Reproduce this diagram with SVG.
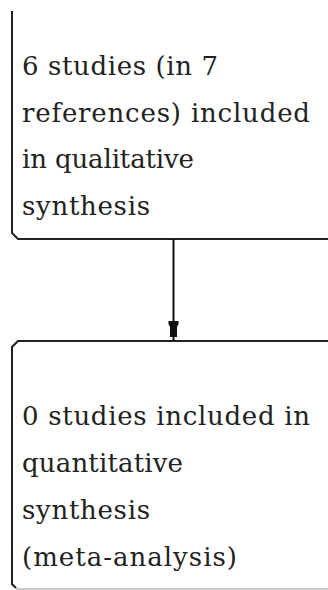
<svg xmlns="http://www.w3.org/2000/svg" width="328" height="590" viewBox="0 0 328 590">
<style>
.box{fill:none;stroke:#222;stroke-width:2}
.faint{fill:none;stroke:#c8c8c8;stroke-width:2}
.lbl{font-family:"DejaVu Serif","Liberation Serif",serif;font-size:26px;fill:#222}
.edge{stroke:#111;stroke-width:2;fill:none}
</style>
<rect width="328" height="590" fill="#fff"/>
<g id="node-qualitative">
<path class="box" d="M12,11 V233 L18,239 H330"/>
<text class="lbl" x="22" y="75" textLength="196" lengthAdjust="spacing">6 studies (in 7</text>
<text class="lbl" x="22" y="122" textLength="288" lengthAdjust="spacing">references) included</text>
<text class="lbl" x="22" y="168" textLength="172" lengthAdjust="spacing">in qualitative</text>
<text class="lbl" x="22" y="215" textLength="128" lengthAdjust="spacing">synthesis</text>
</g>
<g id="node-quantitative">
<path class="box" d="M330,341 H18 L12,347 V584 L16,588"/>
<path class="faint" d="M16,589 H330"/>
<text class="lbl" x="22" y="425" textLength="288" lengthAdjust="spacing">0 studies included in</text>
<text class="lbl" x="22" y="472" textLength="161" lengthAdjust="spacing">quantitative</text>
<text class="lbl" x="22" y="519" textLength="128" lengthAdjust="spacing">synthesis</text>
<text class="lbl" x="22" y="566" textLength="215" lengthAdjust="spacing">(meta-analysis)</text>
</g>
<g id="connectors">
<line class="edge" x1="173.5" y1="239" x2="173.5" y2="341"/>
<polygon fill="#111" points="168.5,321 178.5,321 178.5,324 177,327 177,337 170,337 170,327 168.5,324"/>
</g>
</svg>
